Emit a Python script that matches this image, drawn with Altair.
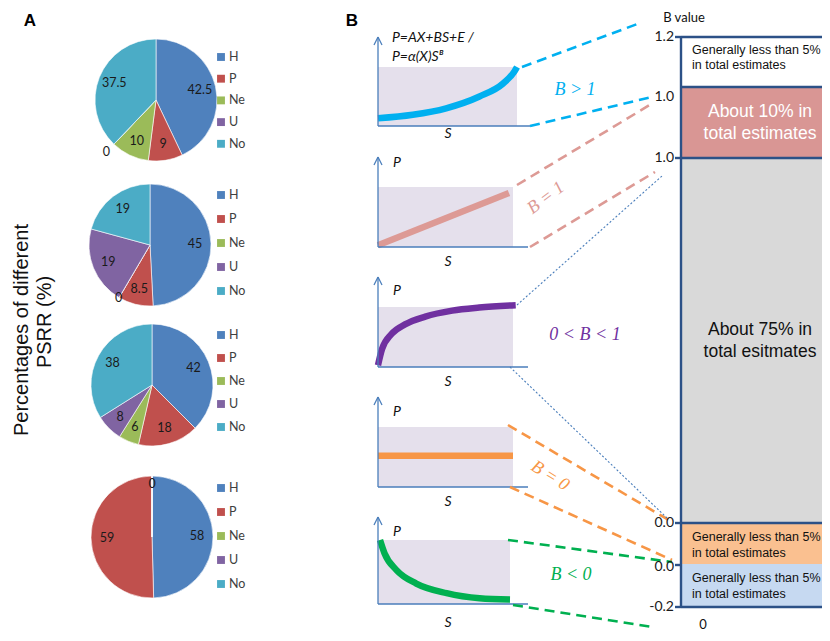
import altair as alt
import pandas as pd

# ======================= DATA =======================
CATEGORIES = ["H", "P", "Ne", "U", "No"]
PIE_VALUES_1 = [42.5, 9, 10, 0, 37.5]
PIE_VALUES_2 = [45, 8.5, 0, 19, 19]
PIE_VALUES_3 = [42, 18, 6, 8, 38]
PIE_VALUES_4 = [58, 59, 0, 0, 0]
Y_TITLE = ["Percentages of different", "PSRR (%)"]

B_TICK_LABELS = ["1.2", "1.0", "1.0", "0.0", "0.0", "-0.2"]
BOX_LINES = [
    ["Generally less than 5%", "in total estimates"],
    ["About 10% in", "total estimates"],
    ["About 75% in", "total esitmates"],
    ["Generally less than 5%", "in total estimates"],
    ["Generally less than 5%", "in total estimates"],
]
CURVE_LABELS = ["B > 1", "B = 1", "0 < B < 1", "B = 0", "B < 0"]
FORMULA = ["P=AX+BS+E /", "P=\u03b1(X)S\u1d2e"]

# schematic curve shapes (normalised S, P)
CURVE_S = [
    [0, 0.25, 0.49, 0.73, 0.90, 0.98, 1.0],
    [0, 0.97],
    [0, 0.03, 0.10, 0.20, 0.35, 0.55, 0.75, 1.02],
    [0, 1.0],
    [0.015, 0.05, 0.14, 0.29, 0.52, 0.77, 1.0],
]
CURVE_P = [
    [0.13, 0.19, 0.30, 0.50, 0.72, 0.92, 1.0],
    [0.03, 0.90],
    [0.03, 0.30, 0.55, 0.71, 0.84, 0.94, 0.99, 1.03],
    [0.52, 0.52],
    [1.0, 0.79, 0.53, 0.32, 0.17, 0.09, 0.07],
]

# ======================= STYLE / LAYOUT =======================
M = 8
W, H = 814, 625
XS = alt.Scale(domain=[M, M + W], nice=False, zero=False)
YS = alt.Scale(domain=[M, M + H], nice=False, zero=False, reverse=True)

CAT_COLORS = ["#4f81bd", "#c0504d", "#9bbb59", "#8064a2", "#4bacc6"]
CURVE_COLORS = ["#00b0f0", "#dd9a95", "#7030a0", "#f79646", "#00b050"]
BOX_COLORS = ["#ffffff", "#d99694", "#d9d9d9", "#fac090", "#c6d9f1"]
AXIS_BLUE = "#4a7ebb"
NAVY = "#2c5187"
SHADE = "#e5e0ec"
CALIBRI = "Lato"
ARIAL = "Liberation Sans"
SERIF = "Liberation Serif"

PIE_CX = [156, 150, 152, 152]
PIE_CY = [100, 245, 385, 537]
PIE_R = 61
LABEL_R = 45
ZERO_R = [72, 62, 62, 53]
LEG_TOP = [57, 195, 335, 488]
LEG_STEP = [21.7, 24, 23, 24]
LEG_X = 221

PANELS = [  # x0, x1 (shade right), xa (axis end), top, bottom, arrow top
    (378, 517, 530, 67, 126, 37),
    (378, 513, 528, 187, 247, 157),
    (378, 513, 528, 307, 367, 277),
    (378, 513, 528, 427, 487, 397),
    (378, 510, 528, 540, 604, 517),
]
P_LABEL_Y = [None, 163, 291, 412, 532]
S_LABEL_Y = [134, 262, 382, 502, 623]
CURVE_LABEL_POS = [(575, 90, 0), (546, 198, 323), (585, 335, 0), (550, 476, 32), (571, 575, 0)]
CONNECTORS = [  # x, y, x2, y2, curve index, dotted?
    (522, 67, 640, 23, 0, 0), (530, 126, 652, 97, 0, 0),
    (517, 185, 653, 103, 1, 0), (530, 247, 655, 172, 1, 0),
    (517, 305, 662, 176, 2, 1), (510, 367, 668, 519, 2, 1),
    (508, 425, 672, 522, 3, 0), (510, 487, 672, 560, 3, 0),
    (508, 540, 672, 562, 4, 0), (513, 605, 652, 627, 4, 0),
]

BAR_X0, BAR_X1 = 681, M + W
BOX_EDGES = [37, 87, 158, 523, 564, 607]
TICK_Y = [37, 97, 158, 523, 567, 607]
TICK_MARK_Y = [37, 158, 523, 565, 607]
BORDER_Y = [37, 87, 158, 523, 607]
BOX_TEXT_Y = [(50, 65), (112, 134), (330, 352), (537, 553), (578, 594)]


def X(f="x"):
    return alt.X(f"{f}:Q", scale=XS, axis=None)


def Y(f="y"):
    return alt.Y(f"{f}:Q", scale=YS, axis=None)


def text_layer(df, **kw):
    return alt.Chart(df).mark_text(**kw).encode(x=X(), y=Y(), text="text:N")


layers = []

# ---------------- Panel A: pies ----------------
pie_rows = []
for pi, vals in enumerate([PIE_VALUES_1, PIE_VALUES_2, PIE_VALUES_3, PIE_VALUES_4]):
    for ci, (cat, v) in enumerate(zip(CATEGORIES, vals)):
        pie_rows.append(dict(pie=pi, cat=cat, order=ci, value=v, label=f"{v:g}",
                             color=CAT_COLORS[ci], cx=PIE_CX[pi], cy=PIE_CY[pi],
                             zr=ZERO_R[pi], ly=LEG_TOP[pi] + ci * LEG_STEP[pi]))
pie_df = pd.DataFrame(pie_rows)

pie_base = (
    alt.Chart(pie_df)
    .transform_joinaggregate(total="sum(value)", groupby=["pie"])
    .transform_window(cum="sum(value)", groupby=["pie"],
                      sort=[alt.SortField("order")], frame=[None, 0])
    .transform_window(prev="lag(value)", groupby=["pie"], sort=[alt.SortField("order")])
    .transform_calculate(
        t0="(datum.cum - datum.value) / datum.total * 2 * PI",
        t1="datum.cum / datum.total * 2 * PI",
        tm="(datum.cum - datum.value / 2) / datum.total * 2 * PI",
        lr=f"datum.value == 0 ? datum.zr : {LABEL_R}",
    )
)
layers.append(
    pie_base.mark_arc(outerRadius=PIE_R, stroke="white", strokeWidth=0.6).encode(
        x=X("cx"), y=Y("cy"),
        theta=alt.Theta("t0:Q", scale=None, stack=None),
        theta2=alt.Theta2("t1:Q"),
        color=alt.Color("color:N", scale=None),
    )
)
layers.append(
    pie_base.transform_filter("datum.value != 0 || datum.prev == null || datum.prev != 0")
    .mark_text(fontSize=12.5, font=CALIBRI, color="#1a1a1a").encode(
        x=X("cx"), y=Y("cy"),
        theta=alt.Theta("tm:Q", scale=None, stack=None),
        radius=alt.Radius("lr:Q", scale=None),
        text="label:N",
    )
)
# legends
layers.append(
    alt.Chart(pie_df).mark_square(size=62, opacity=1).encode(
        x=alt.X("lx:Q", scale=XS, axis=None), y=Y("ly"),
        color=alt.Color("color:N", scale=None),
    ).transform_calculate(lx=str(LEG_X))
)
layers.append(
    alt.Chart(pie_df).mark_text(align="left", fontSize=12.5, font=CALIBRI, color="#404040").encode(
        x=alt.X("tx:Q", scale=XS, axis=None), y=Y("ly"), text="cat:N",
    ).transform_calculate(tx=str(LEG_X + 8))
)

# y title and panel letters
layers.append(text_layer(pd.DataFrame({"x": [22, 45], "y": [330, 322], "text": Y_TITLE}),
                         angle=270, fontSize=20, font=ARIAL, color="#111111"))
layers.append(text_layer(pd.DataFrame({"x": [30, 352], "y": [21, 21], "text": ["A", "B"]}),
                         fontSize=17, fontWeight="bold", font=ARIAL, color="#000000"))

# ---------------- Panel B: mini schematic charts ----------------
shade_df = pd.DataFrame([dict(x=p[0], x2=p[1], y=p[3], y2=p[4]) for p in PANELS])
layers.append(alt.Chart(shade_df).mark_rect(color=SHADE).encode(
    x=X(), x2="x2:Q", y=Y(), y2="y2:Q"))

curve_rows = []
for k, (ss, pp) in enumerate(zip(CURVE_S, CURVE_P)):
    x0, x1, xa, top, bottom, atop = PANELS[k]
    for i, (s, p) in enumerate(zip(ss, pp)):
        curve_rows.append(dict(curve=k, i=i, s=s, p=p, x0=x0, x1=x1, top=top, bottom=bottom,
                               color=CURVE_COLORS[k]))
curve_df = pd.DataFrame(curve_rows)
layers.append(
    alt.Chart(curve_df)
    .transform_calculate(px="datum.x0 + datum.s * (datum.x1 - datum.x0)",
                         py="datum.bottom - datum.p * (datum.bottom - datum.top)")
    .mark_line(strokeWidth=6.5, interpolate="monotone")
    .encode(x=X("px"), y=Y("py"), order="i:Q", detail="curve:N",
            color=alt.Color("color:N", scale=None))
)

axis_rows = []
for p in PANELS:
    x0, x1, xa, top, bottom, atop = p
    axis_rows += [
        dict(x=x0, y=bottom, x2=x0, y2=atop),
        dict(x=x0, y=bottom, x2=xa, y2=bottom),
        dict(x=x0, y=atop, x2=x0 - 4, y2=atop + 8),
        dict(x=x0, y=atop, x2=x0 + 4, y2=atop + 8),
    ]
layers.append(alt.Chart(pd.DataFrame(axis_rows)).mark_rule(color=AXIS_BLUE, strokeWidth=1.3).encode(
    x=X(), y=Y(), x2="x2:Q", y2="y2:Q"))

conn_df = pd.DataFrame([dict(x=c[0], y=c[1], x2=c[2], y2=c[3], color=CURVE_COLORS[c[4]] if not c[5] else AXIS_BLUE,
                             dotted=c[5]) for c in CONNECTORS])
layers.append(alt.Chart(conn_df[conn_df.dotted == 0]).mark_rule(strokeWidth=2.6, strokeDash=[10, 6]).encode(
    x=X(), y=Y(), x2="x2:Q", y2="y2:Q", color=alt.Color("color:N", scale=None)))
layers.append(alt.Chart(conn_df[conn_df.dotted == 1]).mark_rule(strokeWidth=1.1, strokeDash=[2, 2]).encode(
    x=X(), y=Y(), x2="x2:Q", y2="y2:Q", color=alt.Color("color:N", scale=None)))

# P / S labels
p_df = pd.DataFrame([dict(x=397, y=yv, text="P") for yv in P_LABEL_Y if yv is not None])
s_df = pd.DataFrame([dict(x=448, y=yv, text="S") for yv in S_LABEL_Y])
layers.append(text_layer(p_df, fontSize=14, fontStyle="italic", font=CALIBRI, color="#111111"))
layers.append(text_layer(s_df, fontSize=14, fontStyle="italic", font=CALIBRI, color="#111111"))
layers.append(text_layer(pd.DataFrame({"x": [392, 392], "y": [38, 57], "text": FORMULA}),
                         align="left", fontSize=14, fontStyle="italic", font=CALIBRI, color="#111111"))

# curve labels
for k, lab in enumerate(CURVE_LABELS):
    cx, cy, ang = CURVE_LABEL_POS[k]
    layers.append(text_layer(pd.DataFrame({"x": [cx], "y": [cy], "text": [lab]}),
                             fontSize=18, fontStyle="italic", font=SERIF, angle=ang,
                             color=CURVE_COLORS[k]))

# ---------------- Panel B: B value bar ----------------
box_df = pd.DataFrame([dict(x=BAR_X0, x2=BAR_X1, y=BOX_EDGES[i], y2=BOX_EDGES[i + 1],
                            color=BOX_COLORS[i]) for i in range(len(BOX_COLORS))])
layers.append(alt.Chart(box_df).mark_rect().encode(
    x=X(), x2="x2:Q", y=Y(), y2="y2:Q", color=alt.Color("color:N", scale=None)))

border_rows = [dict(x=BAR_X0, x2=BAR_X1, y=yv, y2=yv) for yv in BORDER_Y]
border_rows.append(dict(x=BAR_X0, x2=BAR_X0, y=BOX_EDGES[0], y2=BOX_EDGES[-1]))
border_rows += [dict(x=BAR_X0 - 6, x2=BAR_X0, y=yv, y2=yv) for yv in TICK_MARK_Y]
layers.append(alt.Chart(pd.DataFrame(border_rows)).mark_rule(color=NAVY, strokeWidth=2.4).encode(
    x=X(), x2="x2:Q", y=Y(), y2="y2:Q"))

tick_df = pd.DataFrame({"x": [BAR_X0 - 7] * len(TICK_Y), "y": TICK_Y, "text": B_TICK_LABELS})
layers.append(text_layer(tick_df, align="right", fontSize=14, font=CALIBRI, color="#1a1a1a"))

small_rows, big_rows_w, big_rows_b = [], [], []
for i, lines in enumerate(BOX_LINES):
    for j, line in enumerate(lines):
        yv = BOX_TEXT_Y[i][j]
        if i == 1:
            big_rows_w.append(dict(x=760, y=yv, text=line))
        elif i == 2:
            big_rows_b.append(dict(x=760, y=yv, text=line))
        else:
            small_rows.append(dict(x=692, y=yv, text=line))
layers.append(text_layer(pd.DataFrame(small_rows), align="left", fontSize=12.5, font=ARIAL, color="#111111"))
layers.append(text_layer(pd.DataFrame(big_rows_w), fontSize=17.5, font=ARIAL, color="#ffffff"))
layers.append(text_layer(pd.DataFrame(big_rows_b), fontSize=17.5, font=ARIAL, color="#111111"))

layers.append(text_layer(pd.DataFrame({"x": [684, 703], "y": [18, 625], "text": ["B value", "0"]}),
                         fontSize=13, font=CALIBRI, color="#111111"))

chart = (
    alt.layer(*layers)
    .properties(width=W, height=H, padding=0, autosize=alt.AutoSizeParams(type="none"))
    .configure_view(stroke=None)
)
chart.save("out.html", embed_options={"renderer": "svg", "actions": False})
